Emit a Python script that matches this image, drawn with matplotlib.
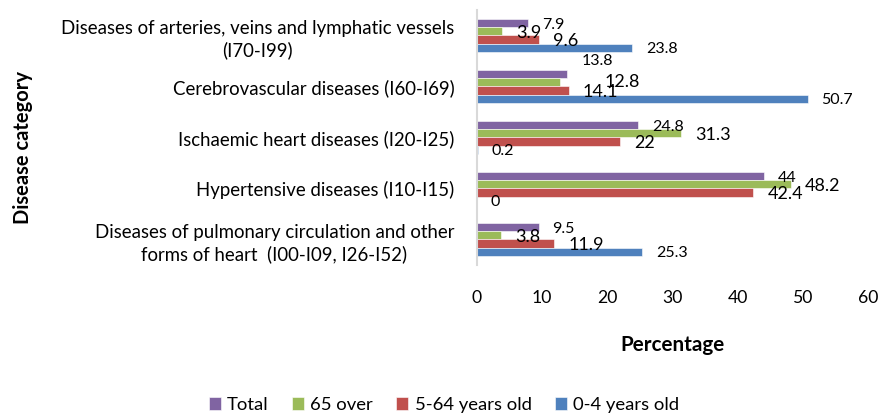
import numpy as np
import matplotlib
matplotlib.use("Agg")
import matplotlib.pyplot as plt

plt.rcParams['font.family'] = ['Lato', 'DejaVu Sans']

# categories, top to bottom as drawn
categories = [
    "Diseases of arteries, veins and lymphatic vessels\n(I70-I99)",
    "Cerebrovascular diseases (I60-I69)",
    "Ischaemic heart diseases (I20-I25)",
    "Hypertensive diseases (I10-I15)",
    "Diseases of pulmonary circulation and other\nforms of heart  (I00-I09, I26-I52)",
]
series = ["Total", "65 over", "5-64 years old", "0-4 years old"]
total = [7.9, 13.8, 24.8, 44, 9.5]
over65 = [3.9, 12.8, 31.3, 48.2, 3.8]
age5_64 = [9.6, 14.1, 22, 42.4, 11.9]
age0_4 = [23.8, 50.7, 0.2, 0, 25.3]
x_ticks = [0, 10, 20, 30, 40, 50, 60]

colors = ["#8064A2", "#9BBB59", "#C0504D", "#4F81BD"]
label_sizes = [11.5, 13, 13, 11.5]

# label nudges in pixels (dx gap from bar end, dy downwards)
nudge = {(1, 0): (15, -13), (1, 1): (44, 0)}

fig = plt.figure(figsize=(8.88, 4.15), dpi=100)
ax = fig.add_axes([476.5 / 888, 1 - 265 / 415, 391.8 / 888, 255 / 415])

n = len(categories)
ypos = np.arange(n)[::-1]
h = 0.16
values = [total, over65, age5_64, age0_4]
for j, vals in enumerate(values):
    yy = ypos + (1.5 - j) * h
    ax.barh(yy, vals, height=h, color=colors[j], edgecolor="white",
            linewidth=0.4, label=series[j])
    for i, v in enumerate(vals):
        dx, dy = nudge.get((i, j), (14, 1.5))
        ax.annotate(f"{v:g}", xy=(v, yy[i]), xytext=(dx, -dy),
                    textcoords="offset pixels", ha="left", va="center",
                    fontsize=label_sizes[j], color="black")

ax.set_xlim(0, 60)
ax.set_ylim(-0.5, n - 0.5)
ax.set_xticks(x_ticks)
ax.set_xticklabels([str(t) for t in x_ticks], fontsize=12.7)
ax.set_yticks(ypos)
ax.set_yticklabels(categories, fontsize=13.4, multialignment="center",
                   linespacing=1.3)
ax.tick_params(axis="x", length=0, pad=18)
ax.tick_params(axis="y", length=0, pad=16)
for s in ["top", "right", "bottom"]:
    ax.spines[s].set_visible(False)
ax.spines["left"].set_color("#d9d9d9")
ax.spines["left"].set_linewidth(1.5)

fig.text(672.5 / 888, 1 - 345 / 415, "Percentage", ha="center", va="center",
         fontsize=14.9, fontweight="bold")
fig.text(23 / 888, 1 - 148 / 415, "Disease category", ha="center", va="center",
         rotation=90, fontsize=14.5, fontweight="bold")

fig.legend(loc="center", bbox_to_anchor=(444 / 888, 1 - 405 / 415), ncol=4,
           frameon=False, fontsize=13.3, handlelength=0.65, handleheight=0.65,
           handletextpad=0.35, columnspacing=1.25)

fig.savefig("out.png", dpi=100)
